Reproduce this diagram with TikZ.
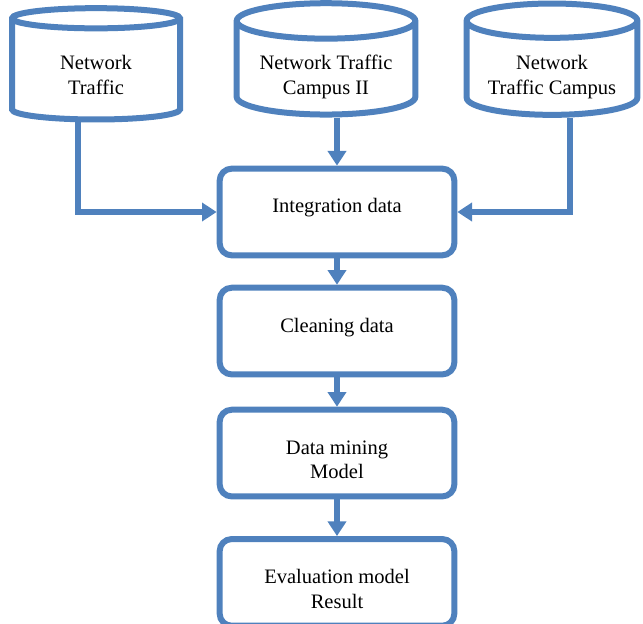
\documentclass[tikz,border=0pt]{standalone}
\usepackage{fontspec}
\setmainfont{Liberation Serif}
\usepackage{xcolor}
\usepackage{tikz}
\usetikzlibrary{shapes,arrows.meta,positioning}
\definecolor{boxblue}{RGB}{79,129,189}

\begin{document}
\begin{tikzpicture}[
    x=0.75pt, y=-0.75pt,
    database/.style={cylinder, shape border rotate=90, draw=boxblue, line width=4.5pt, fill=white, aspect=0.25, minimum width=126pt, minimum height=83.5pt, align=center, text height=33.5pt, text depth=0pt, font=\fontsize{15.4}{18.5}\selectfont},
    process/.style={rectangle, draw=boxblue, line width=4.5pt, rounded corners=9pt, minimum width=176pt, minimum height=65pt, align=center, text height=38.5pt, text depth=0pt, font=\fontsize{15.4}{18.5}\selectfont},
    arrow/.style={-{Triangle[width=13.5pt,length=11pt]}, draw=boxblue, line width=4.5pt}
]
\useasboundingbox (0,0) rectangle (643,624);

% Nodes
\node[database] (traffic) at (96,72) {Network\\Traffic};
\node[database, minimum width=134pt] (campusii) at (326,72) {Network Traffic\\Campus II};
\node[database, minimum width=128pt] (campus) at (552,72) {Network\\Traffic Campus};
\node[process] (integ) at (337,212) {Integration data\\\mbox{}};
\node[process, below=19.8pt of integ] (clean) {Cleaning data\\\mbox{}};
\node[process, below=22pt of clean] (mining) {Data mining\\Model};
\node[process, below=27.5pt of mining] (evalres) {Evaluation model\\Result};

% Arrows
\draw[arrow] ([xshift=-13.5pt]traffic.south) |- (integ.west);
\draw[arrow] (campusii.south -| integ.north) -- (integ.north);
\draw[arrow] ([xshift=13.5pt]campus.south) |- (integ.east);
\draw[arrow] (integ) -- (clean);
\draw[arrow] (clean) -- (mining);
\draw[arrow] (mining) -- (evalres);

\end{tikzpicture}
\end{document}
